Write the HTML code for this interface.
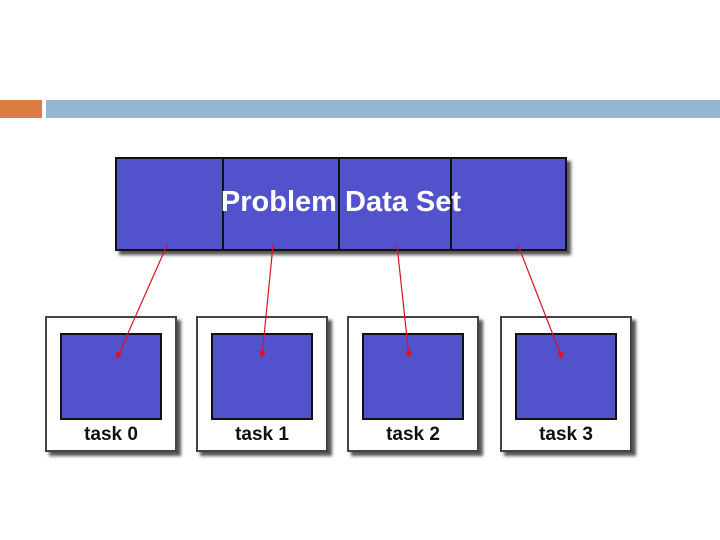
<!DOCTYPE html>
<html><head><style>
body{margin:0;width:720px;height:540px;background:#fff;position:relative;overflow:hidden;font-family:"Liberation Sans",Arial,sans-serif}
.a{position:absolute}
.big{left:115px;top:157px;width:448px;height:90px;background:#5252cc;border:2px solid #111;box-shadow:4px 4px 3px #555;}
.div{position:absolute;top:0;width:2px;height:90px;background:#111}
.t{position:absolute;width:128px;height:132px;background:#fff;border:2px solid #444;box-shadow:4px 4px 3px #555;top:316px}
.in{position:absolute;left:13px;top:15px;width:98px;height:83px;background:#5252cc;border:2px solid #111}
.lb{position:absolute;left:0;width:128px;top:106px;text-align:center;font-weight:bold;font-size:19px;color:#111}
</style></head><body>
<div class="a" style="left:0;top:100px;width:42px;height:18px;background:#db7c43"></div>
<div class="a" style="left:46px;top:100px;width:674px;height:18px;background:#94b6d2"></div>
<div class="a big">
<div class="div" style="left:105px"></div><div class="div" style="left:221px"></div><div class="div" style="left:333px"></div>
<div style="position:absolute;left:0;width:448px;top:27px;text-align:center;color:#fff;font-weight:bold;font-size:29px">Problem Data Set</div>
</div>
<div class="t" style="left:45px"><div class="in"></div><div class="lb">task 0</div></div>
<div class="t" style="left:196px"><div class="in"></div><div class="lb">task 1</div></div>
<div class="t" style="left:347px"><div class="in"></div><div class="lb">task 2</div></div>
<div class="t" style="left:500px"><div class="in"></div><div class="lb">task 3</div></div>
<svg class="a" style="left:0;top:0" width="720" height="540">
<defs><marker id="m" markerWidth="6" markerHeight="6" refX="5" refY="3" orient="auto"><path d="M0,0L6,3L0,6z" fill="#e01020"/></marker></defs>
<g stroke="#e01020" stroke-width="1.2" marker-end="url(#m)">
<line x1="168" y1="243" x2="117" y2="358"/>
<line x1="273" y1="245" x2="262" y2="357"/>
<line x1="397" y1="245" x2="409" y2="357"/>
<line x1="518" y1="245" x2="562" y2="358"/>
</g></svg>
</body></html>
